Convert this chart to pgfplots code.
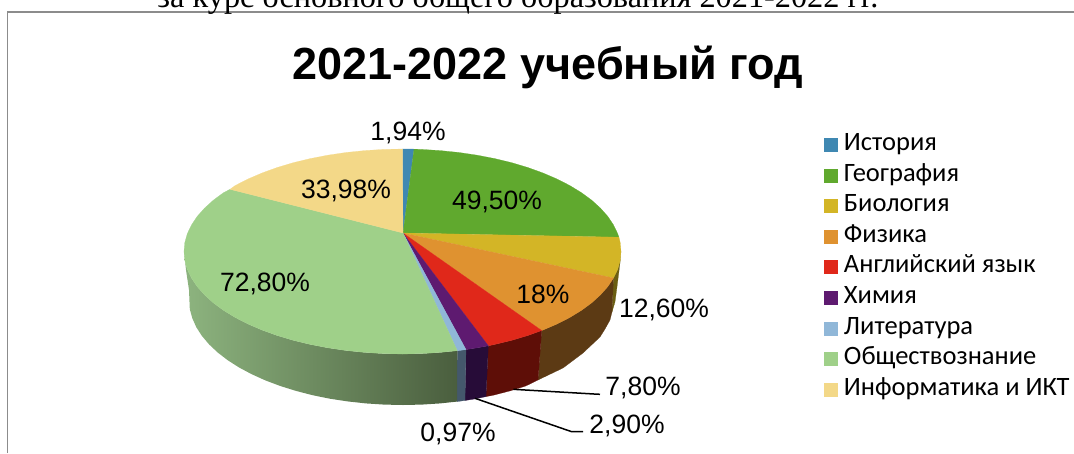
\documentclass[border=0pt]{standalone}
\usepackage{pgfplots}
\pgfplotsset{compat=1.18}
\usepackage{fontspec}
\setmainfont{Liberation Sans}
\newfontfamily\legfont{Carlito}
\newfontfamily\timesfont{Liberation Serif}
\definecolor{cHist}{HTML}{3F88B2}
\definecolor{cGeo}{HTML}{60A92E}
\definecolor{cBio}{HTML}{D3B526}
\definecolor{cPhys}{HTML}{DF9230}
\definecolor{cEng}{HTML}{E0281A}
\definecolor{cChem}{HTML}{5E1A70}
\definecolor{cLit}{HTML}{90B7D8}
\definecolor{cSoc}{HTML}{9FD089}
\definecolor{cInfo}{HTML}{F3D888}
\definecolor{sBio}{HTML}{6B5E12}
\definecolor{sPhys}{HTML}{5C3A14}
\definecolor{sEng}{HTML}{5E0E07}
\definecolor{sChem}{HTML}{270C38}
\definecolor{sLit}{HTML}{44586C}
\definecolor{sSocL}{HTML}{8DB47F}
\definecolor{sSocR}{HTML}{4A5E3E}
\begin{document}
\begin{tikzpicture}
\begin{axis}[
  at={(0pt,0pt)}, anchor=south west,
  scale only axis, width=1074pt, height=453pt,
  xmin=0, xmax=1074, ymin=0, ymax=453, y dir=reverse,
  hide axis, clip=false, no marks,
  legend cell align=left,
  legend image code/.code={\fill[#1,draw=none] (0pt,-7pt) rectangle (14pt,7pt);},
  legend style={at={(824/1074,1-133.5/453)}, anchor=north west, draw=none, fill=none,
    inner sep=0pt, outer sep=0pt, row sep=7.6pt,
    font=\legfont\fontsize{26.5}{26.5}\selectfont,
    nodes={inner sep=0pt, text height=17pt, text depth=6pt},
    /tikz/column 2/.style={column sep=0pt}},
  legend columns=1,
]
\addlegendimage{fill=cHist}\addlegendentry{\ История}
\addlegendimage{fill=cGeo}\addlegendentry{\ География}
\addlegendimage{fill=cBio}\addlegendentry{\ Биология}
\addlegendimage{fill=cPhys}\addlegendentry{\ Физика}
\addlegendimage{fill=cEng}\addlegendentry{\ Английский язык}
\addlegendimage{fill=cChem}\addlegendentry{\ Химия}
\addlegendimage{fill=cLit}\addlegendentry{\ Литература}
\addlegendimage{fill=cSoc}\addlegendentry{\ Обществознание}
\addlegendimage{fill=cInfo}\addlegendentry{\ Информатика и ИКТ}

% frame
\addplot[color=black!45, line width=1.6pt, forget plot] coordinates {(7.5,453) (7.5,12) (1074,12)};

% side walls
\addplot[fill=sBio, draw=sBio, line width=0.2pt, forget plot] coordinates {(621,251.5) (620.2,260.4) (617.7,269.3) (613.5,278) (612,312) (615,302) (617,287) (620,263)} -- cycle;
\addplot[fill=sPhys, draw=sPhys, line width=0.2pt, forget plot] coordinates {(613.5,278) (607.8,286.6) (600.5,294.8) (591.7,302.8) (581.5,310.3) (569.9,317.4) (557,324) (543,330) (541.7,330.5) (538,380) (563,368) (583,353) (600,337) (605,329) (610,320) (612,312)} -- cycle;
\addplot[fill=sEng, draw=sEng, line width=0.2pt, forget plot] coordinates {(541.7,330.5) (527.8,335.5) (511.8,340.3) (494.8,344.4) (488.3,345.8) (486,396.6) (493.4,395.2) (510,390.9) (525.7,386) (538,380)} -- cycle;
\addplot[fill=sChem, draw=sChem, line width=0.2pt, forget plot] coordinates {(488.3,345.8) (477.2,347.8) (466,349.6) (465,400.5) (476.2,398.7) (486,396.6)} -- cycle;
\addplot[fill=sLit, draw=sLit, line width=0.2pt, forget plot] coordinates {(466,349.6) (459,350.5) (457.3,350.7) (457,401.6) (465,400.5)} -- cycle;
\addplot[left color=sSocL, right color=sSocR, draw=none, forget plot] coordinates {(457.3,350.7) (440.4,352.4) (421.5,353.6) (402.5,354) (383.5,353.6) (364.6,352.4) (346,350.5) (327.8,347.8) (310.2,344.4) (293.2,340.3) (277.2,335.5) (262,330) (248,324) (235.1,317.4) (223.5,310.3) (213.3,302.8) (204.5,294.8) (197.2,286.6) (191.5,278) (187.3,269.3) (184.8,260.4) (184,251.5) (186,270) (189,290) (189.8,309.2) (192.3,318.2) (196.3,327.2) (201.9,335.9) (209.1,344.4) (217.7,352.5) (227.7,360.2) (239.1,367.5) (251.7,374.2) (265.4,380.4) (280.3,386) (296,390.9) (312.6,395.2) (329.8,398.7) (347.6,401.4) (365.8,403.4) (384.3,404.6) (403,405) (421.7,404.6) (440.2,403.4) (457,401.6)} -- cycle;

% top faces
\addplot[fill=cHist, draw=cHist, line width=0.2pt, forget plot] coordinates {(403,233) (402.5,149) (414,149.1)} -- cycle;
\addplot[fill=cGeo, draw=cGeo, line width=0.2pt, forget plot] coordinates {(403,233) (414,149.1) (421.5,149.4) (440.4,150.6) (459,152.5) (477.2,155.2) (494.8,158.6) (511.8,162.7) (527.8,167.5) (543,173) (557,179) (569.9,185.6) (581.5,192.7) (591.7,200.2) (600.5,208.2) (607.8,216.4) (613.5,225) (617.7,233.7) (618.9,237.2)} -- cycle;
\addplot[fill=cBio, draw=cBio, line width=0.2pt, forget plot] coordinates {(403,233) (618.9,237.2) (620.2,242.6) (621,251.5) (620.2,260.4) (617.7,269.3) (613.5,278)} -- cycle;
\addplot[fill=cPhys, draw=cPhys, line width=0.2pt, forget plot] coordinates {(403,233) (613.5,278) (607.8,286.6) (600.5,294.8) (591.7,302.8) (581.5,310.3) (569.9,317.4) (557,324) (543,330) (541.7,330.5)} -- cycle;
\addplot[fill=cEng, draw=cEng, line width=0.2pt, forget plot] coordinates {(403,233) (541.7,330.5) (527.8,335.5) (511.8,340.3) (494.8,344.4) (488.3,345.8)} -- cycle;
\addplot[fill=cChem, draw=cChem, line width=0.2pt, forget plot] coordinates {(403,233) (488.3,345.8) (477.2,347.8) (466,349.6)} -- cycle;
\addplot[fill=cLit, draw=cLit, line width=0.2pt, forget plot] coordinates {(403,233) (466,349.6) (459,350.5) (457.3,350.7)} -- cycle;
\addplot[fill=cSoc, draw=cSoc, line width=0.2pt, forget plot] coordinates {(403,233) (457.3,350.7) (440.4,352.4) (421.5,353.6) (402.5,354) (383.5,353.6) (364.6,352.4) (346,350.5) (327.8,347.8) (310.2,344.4) (293.2,340.3) (277.2,335.5) (262,330) (248,324) (235.1,317.4) (223.5,310.3) (213.3,302.8) (204.5,294.8) (197.2,286.6) (191.5,278) (187.3,269.3) (184.8,260.4) (184,251.5) (184.8,242.6) (187.3,233.7) (191.5,225) (197.2,216.4) (204.5,208.2) (213.3,200.2) (223.5,192.7) (230,189.3)} -- cycle;
\addplot[fill=cInfo, draw=cInfo, line width=0.2pt, forget plot] coordinates {(403,233) (230,189.3) (235.1,185.6) (248,179) (262,173) (277.2,167.5) (293.2,162.7) (310.2,158.6) (327.8,155.2) (346,152.5) (364.6,150.6) (383.5,149.4) (402.5,149)} -- cycle;

% leaders
\addplot[black, line width=1.5pt, forget plot] coordinates {(513.3,389.3) (594,394) (600,394.3)};
\addplot[black, line width=1.5pt, forget plot] coordinates {(475,398.3) (571.7,431.7) (583,431.7)};

% labels
\node[font=\fontsize{26.5}{30}\selectfont, inner sep=0pt] at (axis cs:408,133) {1,94\%};
\node[font=\fontsize{26.5}{30}\selectfont, inner sep=0pt] at (axis cs:497,202) {49,50\%};
\node[font=\fontsize{26.5}{30}\selectfont, inner sep=0pt] at (axis cs:346,191) {33,98\%};
\node[font=\fontsize{26.5}{30}\selectfont, inner sep=0pt] at (axis cs:543,294) {18\%};
\node[font=\fontsize{26.5}{30}\selectfont, inner sep=0pt] at (axis cs:664,310) {12,60\%};
\node[font=\fontsize{26.5}{30}\selectfont, inner sep=0pt] at (axis cs:265,284) {72,80\%};
\node[font=\fontsize{26.5}{30}\selectfont, inner sep=0pt] at (axis cs:643,388) {7,80\%};
\node[font=\fontsize{26.5}{30}\selectfont, inner sep=0pt] at (axis cs:627,426) {2,90\%};
\node[font=\fontsize{26.5}{30}\selectfont, inner sep=0pt] at (axis cs:458,434) {0,97\%};
% title
\node[font=\bfseries\fontsize{45}{50}\selectfont, inner sep=0pt] at (axis cs:548,67.5) {2021-2022 учебный год};
% cut off line of body text above the chart
\node[font=\timesfont\fontsize{32.3}{34}\selectfont, inner sep=0pt, anchor=base] at (axis cs:518,7) {за курс основного общего образования 2021-2022 гг.};
\end{axis}
\pgfresetboundingbox
\path[use as bounding box] (0pt,0pt) rectangle (1074pt,453pt);
\end{tikzpicture}
\end{document}
